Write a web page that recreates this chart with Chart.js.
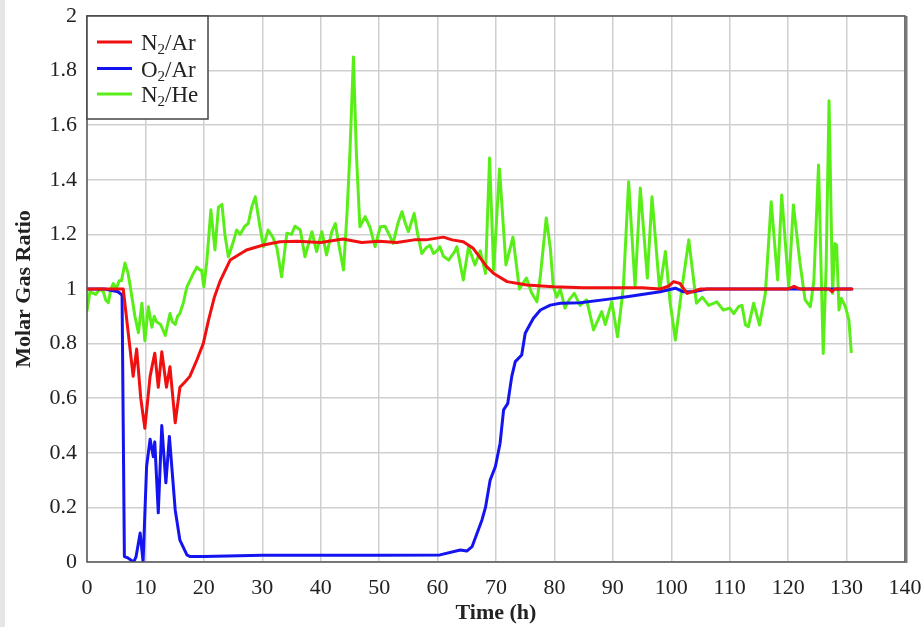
<!DOCTYPE html>
<html>
<head>
<meta charset="utf-8">
<script src="https://cdn.jsdelivr.net/npm/chart.js@4.4.1/dist/chart.umd.min.js"></script>
<style>
  html, body { margin: 0; padding: 0; background: #fff; }
  #wrap { width: 923px; height: 627px; }
</style>
</head>
<body>
<div id="wrap"><canvas id="gasChart" width="923" height="627"></canvas></div>
<script>
// N2/Ar ratio
const n2arTime = [0, 2, 4, 6.2, 7.0, 7.9, 8.5, 9.2, 9.9, 10.8, 11.6, 12.2, 12.8, 13.6, 14.2, 15.1, 15.9, 16.8, 17.6, 18.8, 19.9, 20.8, 21.8, 22.8, 24.5, 27.3, 30.2, 33, 36, 40, 43.8, 47, 50, 53, 56, 58, 61, 62.5, 64.4, 66.1, 68.4, 69.6, 71.9, 75.3, 79.8, 85, 90, 95, 98.1, 99.5, 100.4, 101.5, 102.7, 105, 110, 115, 120, 121, 122, 125, 127, 127.5, 128, 130.9];
const n2arVals = [1.0, 1.0, 1.0, 1.0, 0.85, 0.68, 0.78, 0.6, 0.49, 0.68, 0.765, 0.64, 0.77, 0.64, 0.715, 0.51, 0.64, 0.66, 0.68, 0.74, 0.80, 0.886, 0.97, 1.03, 1.106, 1.143, 1.161, 1.173, 1.175, 1.17, 1.183, 1.17, 1.175, 1.17, 1.18, 1.18, 1.19, 1.18, 1.173, 1.149, 1.082, 1.057, 1.027, 1.015, 1.008, 1.005, 1.005, 1.005, 1.0, 1.01, 1.027, 1.02, 0.984, 1.0, 1.0, 1.0, 1.0, 1.01, 1.0, 1.0, 1.0, 0.99, 1.0, 1.0];

// O2/Ar ratio
const o2arTime = [0, 3, 5.3, 6.0, 6.2, 6.4, 7, 8, 8.4, 9.1, 9.6, 10.2, 10.8, 11.35, 11.6, 12.2, 12.8, 13.5, 14.1, 15.1, 15.9, 17.1, 17.6, 20, 30, 40, 50, 60.4, 63.9, 65, 65.9, 67.6, 68.2, 69.0, 69.9, 70.7, 71.3, 72.0, 72.7, 73.3, 74.4, 75.0, 75.6, 76.4, 77.6, 79.3, 81, 84.4, 89, 92.4, 98.1, 100.7, 102, 103.8, 106.1, 110, 120, 125, 130.9];
const o2arVals = [1.0, 1.0, 0.99, 0.978, 0.5, 0.02, 0.015, 0.0, 0.02, 0.106, 0.0, 0.35, 0.45, 0.386, 0.44, 0.18, 0.50, 0.29, 0.46, 0.19, 0.08, 0.026, 0.02, 0.02, 0.025, 0.025, 0.025, 0.026, 0.044, 0.04, 0.056, 0.154, 0.2, 0.30, 0.35, 0.435, 0.557, 0.58, 0.68, 0.734, 0.758, 0.838, 0.862, 0.893, 0.923, 0.941, 0.948, 0.95, 0.962, 0.972, 0.99, 1.003, 0.99, 0.99, 1.0, 1.0, 1.0, 1.0, 1.0];

// N2/He ratio
const n2heTime = [0, 0.5, 1.5, 2.2, 2.8, 3.2, 3.65, 4.1, 4.5, 5.0, 5.5, 5.9, 6.5, 7.0, 7.4, 8.2, 8.8, 9.4, 9.9, 10.5, 11.1, 11.5, 11.9, 12.6, 13.4, 14.2, 14.6, 15.1, 15.5, 15.9, 16.5, 17.1, 17.6, 18.2, 18.8, 19.3, 19.6, 20.0, 20.5, 21.2, 21.9, 22.5, 23.1, 23.6, 24.2, 25.0, 25.6, 26.2, 27.0, 27.6, 28.2, 28.8, 29.6, 30.2, 31.0, 31.8, 32.5, 33.3, 34.2, 35.0, 35.6, 36.5, 37.3, 38.5, 39.3, 40.2, 41.0, 41.9, 42.5, 43.2, 43.9, 44.5, 45.0, 45.6, 46.1, 46.7, 47.6, 48.4, 49.3, 50.2, 51.0, 51.7, 52.4, 53.2, 53.9, 54.5, 55.0, 56.0, 56.6, 57.3, 58.0, 58.7, 59.3, 59.9, 60.4, 61.0, 61.9, 63.0, 63.3, 64.4, 65.3, 66.4, 67.3, 68.2, 68.9, 69.6, 70.6, 71.7, 72.9, 74.0, 75.2, 76.1, 77.0, 77.6, 78.6, 79.3, 79.8, 80.4, 81.0, 81.8, 82.5, 83.4, 84.4, 85.5, 86.7, 88.1, 88.7, 89.8, 90.8, 91.8, 92.7, 93.8, 94.7, 95.9, 96.7, 98.0, 99.0, 99.8, 100.7, 101.8, 103.0, 104.3, 105.3, 106.4, 107.8, 108.9, 110.0, 110.7, 111.5, 112.1, 112.7, 113.2, 114.1, 115.1, 116.1, 117.1, 118.2, 118.9, 120.1, 120.9, 122.0, 122.9, 123.8, 124.4, 125.2, 126.0, 126.5, 127.0, 127.6, 128.0, 128.3, 128.7, 129.1, 129.8, 130.4, 130.8];
const n2heVals = [0.92, 0.99, 0.98, 1.0, 0.99, 0.96, 0.95, 1.0, 1.02, 1.0, 1.03, 1.03, 1.095, 1.06, 1.01, 0.9, 0.84, 0.948, 0.81, 0.935, 0.86, 0.9, 0.88, 0.87, 0.83, 0.91, 0.88, 0.87, 0.9, 0.91, 0.95, 1.008, 1.03, 1.057, 1.08, 1.07, 1.07, 1.008, 1.1, 1.29, 1.143, 1.30, 1.31, 1.2, 1.118, 1.17, 1.216, 1.2, 1.23, 1.24, 1.3, 1.338, 1.228, 1.155, 1.216, 1.19, 1.15, 1.045, 1.204, 1.2, 1.23, 1.216, 1.118, 1.21, 1.137, 1.21, 1.125, 1.21, 1.24, 1.15, 1.07, 1.277, 1.5, 1.85, 1.5, 1.228, 1.265, 1.228, 1.155, 1.228, 1.23, 1.2, 1.167, 1.24, 1.283, 1.24, 1.21, 1.277, 1.2, 1.13, 1.15, 1.16, 1.13, 1.14, 1.155, 1.12, 1.106, 1.14, 1.155, 1.033, 1.155, 1.088, 1.14, 1.057, 1.48, 1.07, 1.44, 1.088, 1.19, 1.0, 1.04, 0.985, 0.953, 1.05, 1.26, 1.15, 1.01, 0.97, 1.0, 0.93, 0.96, 0.984, 0.94, 0.96, 0.85, 0.917, 0.87, 0.953, 0.825, 1.008, 1.393, 1.008, 1.37, 1.04, 1.338, 0.996, 1.137, 0.95, 0.813, 1.0, 1.18, 0.948, 0.97, 0.94, 0.953, 0.923, 0.93, 0.91, 0.935, 0.94, 0.868, 0.862, 0.948, 0.868, 0.984, 1.32, 1.033, 1.344, 1.008, 1.308, 1.1, 0.96, 0.935, 1.03, 1.454, 0.764, 1.08, 1.69, 0.984, 1.167, 1.16, 0.923, 0.966, 0.935, 0.886, 0.77];

const seriesNames = ['N2/Ar', 'O2/Ar', 'N2/He'];
const seriesColors = ['#f01010', '#1414f0', '#5aee18'];

const toPoints = (xs, ys) => xs.map((x, i) => ({ x: x, y: ys[i] }));

const serif = "'Liberation Serif', 'Times New Roman', serif";

// frame, legend box and grey strip on the left
const framePlugin = {
  id: 'frame',
  beforeDraw(chart) {
    const ctx = chart.ctx;
    ctx.save();
    ctx.fillStyle = '#fff';
    ctx.fillRect(0, 0, chart.width, chart.height);
    ctx.fillStyle = '#e6e6e6';
    ctx.fillRect(0, 0, 5, chart.height);
    ctx.restore();
  },
  afterDraw(chart) {
    const ctx = chart.ctx;
    const a = chart.chartArea;
    ctx.save();
    ctx.strokeStyle = '#555';
    ctx.lineWidth = 1.5;
    ctx.strokeRect(a.left, a.top, a.right - a.left, a.bottom - a.top);
    ctx.lineWidth = 2;
    ctx.strokeStyle = '#777';
    ctx.beginPath();
    ctx.moveTo(a.right + 1.5, a.top);
    ctx.lineTo(a.right + 1.5, a.bottom + 1);
    ctx.stroke();

    // legend
    const bx = a.left, by = a.top, bw = 121, bh = 103;
    ctx.fillStyle = '#fff';
    ctx.fillRect(bx, by, bw, bh);
    ctx.strokeStyle = '#444';
    ctx.lineWidth = 1.5;
    ctx.strokeRect(bx, by, bw, bh);
    const rows = [26, 52.5, 78];
    seriesNames.forEach((name, i) => {
      const y = by + rows[i];
      ctx.strokeStyle = seriesColors[i];
      ctx.lineWidth = 3;
      ctx.beginPath();
      ctx.moveTo(bx + 10, y);
      ctx.lineTo(bx + 45, y);
      ctx.stroke();
      const parts = name.split('2');
      let x = bx + 54;
      ctx.fillStyle = '#222';
      ctx.textBaseline = 'alphabetic';
      ctx.font = '23px ' + serif;
      ctx.fillText(parts[0], x, y + 8);
      x += ctx.measureText(parts[0]).width;
      ctx.font = '15px ' + serif;
      ctx.fillText('2', x, y + 12);
      x += ctx.measureText('2').width;
      ctx.font = '23px ' + serif;
      ctx.fillText(parts[1], x, y + 8);
    });
    ctx.restore();
  }
};

const ctx = document.getElementById('gasChart').getContext('2d');
const gasChart = new Chart(ctx, {
  type: 'line',
  data: {
    datasets: [
      { label: seriesNames[0], data: toPoints(n2arTime, n2arVals), borderColor: seriesColors[0] },
      { label: seriesNames[1], data: toPoints(o2arTime, o2arVals), borderColor: seriesColors[1] },
      { label: seriesNames[2], data: toPoints(n2heTime, n2heVals), borderColor: seriesColors[2] }
    ]
  },
  options: {
    responsive: false,
    animation: false,
    layout: { padding: { top: 16, right: 18, left: 0, bottom: 0 } },
    elements: {
      point: { radius: 0 },
      line: { borderWidth: 3, tension: 0, borderJoinStyle: 'round', borderCapStyle: 'round' }
    },
    plugins: {
      legend: { display: false },
      tooltip: { enabled: false }
    },
    scales: {
      x: {
        type: 'linear',
        min: 0,
        max: 140,
        afterFit(scale) {
          scale.height = 65;
          scale.paddingLeft = 0;
          scale.paddingRight = 0;
        },
        grid: { color: '#cfcfcf', lineWidth: 1.5, drawTicks: false },
        border: { display: false },
        ticks: {
          stepSize: 10,
          padding: 13,
          color: '#222',
          font: { family: serif, size: 22 },
          maxRotation: 0
        },
        title: {
          display: true,
          text: 'Time (h)',
          color: '#222',
          font: { family: serif, size: 22, weight: 'bold' },
          padding: { top: 0, bottom: 0 }
        }
      },
      y: {
        min: 0,
        max: 2,
        afterFit(scale) {
          scale.width = 87;
          scale.paddingTop = 0;
          scale.paddingBottom = 0;
        },
        grid: { color: '#cfcfcf', lineWidth: 1.5, drawTicks: false },
        border: { display: false },
        ticks: {
          stepSize: 0.2,
          padding: 10,
          color: '#222',
          font: { family: serif, size: 22 },
          callback: function(v) { return String(+v.toFixed(1)); }
        },
        title: {
          display: true,
          text: 'Molar Gas Ratio',
          color: '#222',
          font: { family: serif, size: 22, weight: 'bold' },
          padding: { top: 11, bottom: 0 }
        }
      }
    }
  },
  plugins: [framePlugin]
});
</script>
</body>
</html>
